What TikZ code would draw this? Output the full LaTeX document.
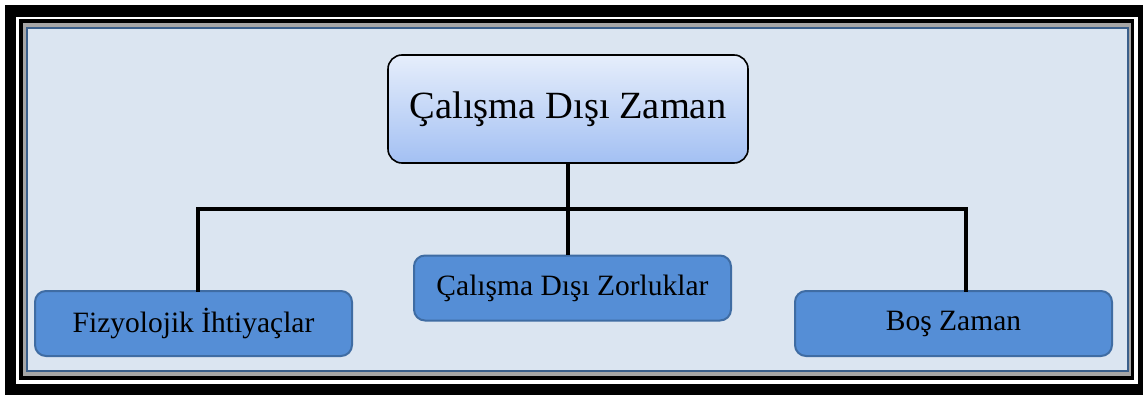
\documentclass[tikz,border=0pt]{standalone}
\usepackage{fontspec}
\setmainfont{Liberation Serif}
\usetikzlibrary{shadows}
\definecolor{panel}{HTML}{DBE5F1}
\definecolor{panelborder}{HTML}{3A5F8B}
\definecolor{topA}{HTML}{E6EEFB}
\definecolor{topB}{HTML}{A3C0F3}
\definecolor{leaf}{HTML}{558ED6}
\definecolor{leafborder}{HTML}{3F6CA3}
\tikzset{
  topbox/.style={draw=black, line width=1.6pt, rounded corners=14pt,
    top color=topA, bottom color=topB, minimum width=360pt, minimum height=108pt,
    font=\fontsize{38.5}{42}\selectfont, inner sep=0pt},
  leafbox/.style={draw=leafborder, line width=2pt, rounded corners=11pt,
    fill=leaf, minimum width=317pt, minimum height=65pt,
    font=\fontsize{29.5}{34}\selectfont, inner sep=0pt},
  conn/.style={line width=4pt, black}
}
\begin{document}
\begin{tikzpicture}[x=1pt,y=-1pt]
\useasboundingbox (0,0) rectangle (1143,396);
\fill[black] (5,5) rectangle (1143,395);
\fill[white] (16,17) rectangle (1138,384);
\fill[black] (19,19) rectangle (1134,380);
\fill[gray!70] (23,23) rectangle (1131,376);
\draw[fill=panel, draw=panelborder, line width=2.5pt] (27,28) rectangle (1128,371);
\node[topbox] (top) at (568,109) {Çalışma Dışı Zaman};
\node[leafbox] (left) at (193.5,323.5) {Fizyolojik İhtiyaçlar};
\node[leafbox] (mid) at (572.5,288) {Çalışma Dışı Zorluklar};
\node[leafbox] (right) at (953.5,323.5) {Boş Zaman};
\coordinate (j) at (568,209);
\draw[conn] (top.south -| j) -- (mid.north -| j);
\draw[conn, line cap=rect] (left.north -| 198,0) -- (198,209) -- (966,209) -- (right.north -| 966,0);
\end{tikzpicture}
\end{document}
